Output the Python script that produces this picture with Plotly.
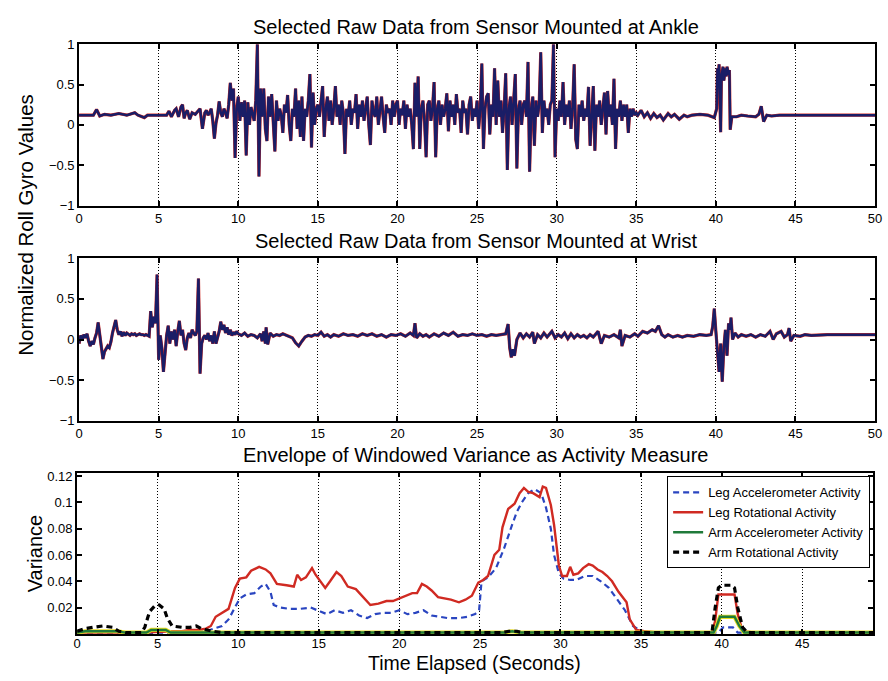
import numpy as np
import plotly.graph_objects as go

# ---------------- data ----------------
# Ankle roll gyro (normalized) — sparse start
ankle_pre_t = [0, 0.9, 1.1, 1.3, 1.6, 2.0, 2.5, 3.0, 3.5, 3.7, 4.1, 4.3, 5.0, 5.5, 5.65,
               5.8, 6.0, 6.1, 6.25, 6.4, 6.5, 6.6, 6.7, 6.8, 6.95, 7.1, 7.3, 7.5, 7.6, 7.75, 7.9]
ankle_pre_v = [0.12, 0.12, 0.19, 0.11, 0.13, 0.12, 0.14, 0.12, 0.15, 0.12, 0.09, 0.12, 0.12, 0.12, 0.17,
               0.1, 0.18, 0.2, 0.1, 0.22, 0.25, 0.08, 0.15, 0.18, 0.07, 0.15, 0.13, 0.18, 0.2, -0.05, 0.15]
# Ankle busy section, sampled every 0.1 s from 8.0 s to 35.0 s
ankle_busy_start = 8.0
ankle_busy_v = [
    0.18, 0.12, 0.15, 0.2, 0.05, -0.17, 0.02, 0.12, 0.29, 0.15,
    0.1, 0.2, 0.15, 0.08, 0.25, 0.52, 0.3, 0.45, -0.41, 0.2,
    0.35, 0.05, 0.28, 0.1, 0.3, -0.38, 0.28, 0.0, 0.22, 0.15,
    0.05, 0.3, 1.0, -0.64, 0.45, 0.1, 0.45, -0.05, -0.2, 0.35,
    0.1, 0.38, 0.0, -0.33, 0.3, 0.05, 0.2, 0.12, -0.1, 0.25,
    0.15, 0.37, 0.0, -0.2, 0.2, 0.1, 0.45, -0.05, 0.3, -0.15,
    0.35, -0.2, 0.2, 0.1, 0.3, 0.63, -0.28, 0.4, 0.0, 0.2,
    0.25, 0.1, 0.3, 0.48, -0.15, 0.2, 0.35, 0.05, 0.3, 0.0,
    0.2, 0.48, 0.1, 0.25, 0.0, 0.3, 0.15, -0.36, 0.2, 0.1,
    0.3, 0.0, 0.2, 0.15, 0.38, -0.05, 0.25, 0.1, 0.3, 0.05,
    0.2, 0.35, 0.0, -0.25, 0.3, 0.15, 0.1, 0.35, 0.0, 0.2,
    0.35, 0.1, -0.1, 0.25, 0.15, 0.2, 0.0, 0.3, 0.1, 0.25,
    0.3, 0.0, 0.2, 0.12, 0.3, -0.05, 0.25, 0.1, 0.2, 0.0,
    -0.3, 0.52, 0.1, 0.6, -0.3, 0.2, 0.3, 0.05, -0.4, 0.25,
    0.3, 0.05, 0.2, 0.53, -0.4, 0.2, 0.3, 0.0, 0.25, 0.1,
    0.2, 0.39, -0.08, 0.3, 0.1, 0.25, 0.0, 0.38, 0.15, 0.2,
    -0.1, 0.3, 0.15, 0.2, -0.12, 0.25, 0.35, 0.05, 0.2, 0.1,
    0.3, -0.05, 0.2, 0.76, -0.3, 0.2, 0.35, 0.39, -0.12, 0.25,
    0.1, 0.7, 0.0, 0.55, 0.1, 0.3, -0.1, 0.2, 0.64, -0.56,
    0.2, 0.35, 0.0, 0.3, 0.63, -0.54, 0.2, 0.3, 0.0, 0.25,
    0.3, 0.1, 0.78, -0.58, 0.2, 0.35, -0.26, 0.3, 0.1, 0.25,
    0.9, -0.1, 0.3, 0.1, 0.2, 0.0, 0.25, 0.3, 1.0, -0.4,
    0.2, 0.05, 0.3, 0.1, 0.53, 0.0, 0.25, 0.1, 0.3, -0.05,
    0.2, 0.75, -0.18, -0.3, 0.25, 0.1, 0.3, 0.05, 0.2, 0.1,
    0.47, -0.26, 0.2, 0.48, -0.32, 0.25, 0.1, 0.3, 0.0, 0.2,
    0.4, -0.12, 0.42, 0.1, 0.25, 0.0, 0.57, -0.3, 0.2, 0.1,
    0.3, 0.05, 0.25, 0.1, 0.25, -0.1, 0.2, 0.1, 0.2, 0.12,
    0.15,
]
ankle_post_t = [35.1, 35.3, 35.5, 35.7, 35.9, 36.1, 36.3, 36.5, 36.7, 37.0,
                37.2, 37.4, 37.7, 38.0, 38.2, 38.5, 39.0, 39.5, 39.9, 40.05,
                40.1, 40.15, 40.2, 40.3, 40.35, 40.45, 40.5, 40.6, 40.65, 40.7,
                40.8, 40.85, 40.9, 41.0, 41.3, 41.6, 42.0, 42.5, 42.7, 42.85,
                43.0, 43.2, 43.5, 44.0, 45.0, 50.0]
ankle_post_v = [0.12, 0.18, 0.1, 0.15, 0.08, 0.14, 0.09, 0.12, 0.06, 0.14,
                0.1, 0.13, 0.07, 0.12, 0.1, 0.12, 0.13, 0.12, 0.09, 0.2,
                0.7, 0.55, 0.75, -0.09, 0.6, 0.72, 0.55, 0.7, 0.6, 0.72,
                0.62, 0.68, -0.06, 0.1, 0.1, 0.12, 0.11, 0.1, 0.13, 0.23,
                0.04, 0.12, 0.11, 0.12, 0.12, 0.12]

# Wrist roll gyro — sampled every 0.1 s from 0 to 10 s, then keypoints
wrist_head_v = [
    -0.05, 0.05, 0.0, 0.06, 0.02, 0.07, -0.02, -0.08, -0.02, -0.06,
    0.02, 0.08, 0.21, 0.05, -0.05, -0.24, -0.15, -0.12, -0.08, -0.1,
    -0.03, 0.08, 0.18, 0.24, 0.12, 0.06, 0.1, 0.04, 0.09, 0.05,
    0.08, 0.06, 0.05, 0.07, 0.06, 0.07, 0.05, 0.06, 0.07, 0.06,
    0.06, 0.05, 0.06, 0.05, 0.04, 0.35, 0.15, 0.28, 0.2, 0.8,
    -0.25, 0.05, -0.1, -0.4, -0.15, 0.05, 0.17, -0.05, 0.1, 0.0,
    0.12, -0.08, 0.1, 0.23, 0.05, 0.12, -0.05, -0.13, 0.02, 0.08,
    0.02, 0.12, 0.08, 0.05, 0.1, 0.75, -0.42, -0.05, 0.02, 0.05,
    0.0, 0.08, -0.02, 0.05, -0.05, 0.1, -0.05, 0.02, 0.1, 0.22,
    0.12, 0.18, 0.08, 0.15, 0.06, 0.12, 0.05, 0.09, 0.06, 0.1,
    0.07,
]
wrist_tail_t = [
    10.2, 10.4, 10.6, 10.8, 11.0, 11.2, 11.4, 11.5, 11.6, 11.7,
    11.75, 11.85, 12.0, 12.2, 12.4, 12.6, 12.8, 13.0, 13.2, 13.4,
    13.6, 13.8, 14.0, 14.2, 14.4, 14.6, 14.8, 15.0, 15.2, 15.4,
    15.6, 15.8, 16.0, 16.3, 16.6, 16.9, 17.2, 17.5, 17.8, 18.1,
    18.4, 18.7, 19.0, 19.3, 19.6, 19.9, 20.2, 20.5, 20.8, 21.0,
    21.1, 21.2, 21.4, 21.6, 21.8, 22.0, 22.3, 22.6, 22.9, 23.2,
    23.5, 23.8, 24.1, 24.4, 24.7, 25.0, 25.3, 25.6, 25.9, 26.2,
    26.5, 26.8, 26.95, 27.05, 27.15, 27.25, 27.35, 27.5, 27.7, 27.9,
    28.1, 28.3, 28.5, 28.6, 28.8, 29.0, 29.2, 29.4, 29.7, 29.9,
    30.1, 30.3, 30.5, 30.7, 30.9, 31.1, 31.3, 31.5, 31.7, 31.9,
    32.1, 32.3, 32.6, 32.8, 33.0, 33.3, 33.6, 33.9, 34.0, 34.1,
    34.3, 34.6, 34.9, 35.1, 35.4, 35.7, 36.0, 36.2, 36.4, 36.6,
    36.8, 37.0, 37.3, 37.6, 37.9, 38.2, 38.6, 39.0, 39.4, 39.7,
    39.8, 39.9, 40.0, 40.05, 40.15, 40.2, 40.3, 40.4, 40.5, 40.6,
    40.7, 40.8, 40.9, 40.95, 41.05, 41.2, 41.4, 41.6, 41.9, 42.2,
    42.5, 42.8, 43.1, 43.4, 43.6, 43.8, 44.1, 44.3, 44.5, 44.6,
    44.7, 44.9, 45.3, 45.6, 46.0, 47.0, 48.0, 50.0,
]
wrist_tail_v = [
    0.05, 0.08, 0.04, 0.06, 0.05, 0.02, 0.07, -0.02, 0.1, -0.05,
    0.15, -0.06, 0.08, 0.04, 0.06, 0.05, 0.07, 0.05, 0.04, 0.02,
    -0.04, -0.08, -0.02, 0.03, 0.05, 0.04, 0.06, 0.05, 0.09, 0.04,
    0.06, 0.03, 0.06, 0.04, 0.07, 0.05, 0.06, 0.04, 0.07, 0.05,
    0.07, 0.04, 0.06, 0.03, 0.06, 0.05, 0.07, 0.04, 0.08, 0.05,
    0.2, 0.02, 0.07, 0.04, 0.06, 0.03, 0.07, 0.04, 0.08, 0.05,
    0.09, 0.04, 0.06, 0.05, 0.07, 0.05, 0.06, 0.04, 0.06, 0.05,
    0.06, 0.07, 0.19, -0.1, -0.22, -0.12, -0.2, 0.0, 0.08, 0.02,
    0.07, 0.03, 0.09, -0.05, 0.06, 0.02, 0.08, 0.03, 0.1, 0.02,
    0.06, 0.03, 0.08, 0.01, 0.07, 0.02, 0.06, 0.03, 0.05, 0.02,
    0.06, 0.03, 0.1, -0.05, 0.05, 0.03, 0.06, 0.02, 0.12, -0.08,
    0.05, 0.03, 0.07, 0.04, 0.1, 0.08, 0.12, 0.1, 0.17, 0.06,
    0.03, 0.06, 0.03, 0.05, 0.03, 0.05, 0.04, 0.06, 0.05, 0.06,
    0.16, 0.38, 0.1, -0.05, -0.25, -0.4, -0.05, -0.52, -0.1, 0.12,
    -0.2, 0.2, 0.12, 0.27, 0.0, 0.08, 0.03, 0.06, 0.04, 0.06,
    0.03, 0.06, 0.04, 0.1, 0.0, 0.07, 0.1, 0.03, 0.06, 0.14,
    -0.02, 0.05, 0.04, 0.06, 0.05, 0.06, 0.06, 0.06,
]

# Windowed variance envelopes
leg_rot_t = [0, 2, 4, 6, 6.5, 7, 7.5, 8.0, 8.3, 8.6, 9.0, 9.4, 9.8, 10.1, 10.5, 10.8, 11.3, 11.7,
             12.0, 12.2, 12.4, 13.0, 13.45, 13.66, 13.9, 14.2, 14.58, 14.8, 15.1, 15.4, 15.7, 16.1,
             16.4, 16.8, 17.3, 17.8, 18.2, 18.7, 19.2, 19.6, 20.0, 20.4, 20.8, 21.1, 21.4, 21.7,
             22.0, 22.4, 22.8, 23.2, 23.7, 24.1, 24.5, 24.9, 25.2, 25.5, 25.9, 26.2, 26.4, 26.75,
             27.15, 27.46, 27.73, 28.0, 28.3, 28.7, 28.9, 29.1, 29.4, 29.6, 29.9, 30.1, 30.4, 30.6,
             30.8, 31.1, 31.4, 31.75, 32.0, 32.3, 32.6, 32.9, 33.2, 33.6, 34.1, 34.3, 34.7, 35.2,
             36, 39.4, 39.6, 39.8, 40.8, 41.0, 41.3, 42, 49.4]
leg_rot_v = [0.001, 0.001, 0.001, 0.002, 0.002, 0.003, 0.003, 0.004, 0.006, 0.013, 0.016, 0.019,
             0.035, 0.042, 0.043, 0.048, 0.051, 0.049, 0.046, 0.042, 0.038, 0.037, 0.036, 0.045,
             0.041, 0.043, 0.050, 0.045, 0.040, 0.035, 0.040, 0.047, 0.044, 0.036, 0.034, 0.027,
             0.022, 0.023, 0.025, 0.025, 0.027, 0.029, 0.031, 0.031, 0.038, 0.036, 0.033, 0.028,
             0.027, 0.026, 0.024, 0.026, 0.029, 0.039, 0.041, 0.044, 0.060, 0.064, 0.081, 0.095,
             0.099, 0.107, 0.111, 0.108, 0.107, 0.104, 0.112, 0.111, 0.098, 0.083, 0.052, 0.044,
             0.044, 0.051, 0.045, 0.046, 0.050, 0.053, 0.052, 0.049, 0.047, 0.044, 0.040, 0.032,
             0.024, 0.011, 0.003, 0.002, 0.001, 0.001, 0.010, 0.030, 0.030, 0.015, 0.002, 0.001,
             0.001]
leg_acc_t = [0, 4, 7, 8.0, 8.5, 9.0, 9.4, 9.8, 10.1, 10.5, 11.0, 11.4, 11.7, 12.0, 12.2,
             12.6, 13.2, 13.8, 14.5, 15.1, 15.5, 16.0, 16.5, 17.0, 17.5, 18.0, 18.5, 19.0, 19.5,
             20.0, 20.5, 21.0, 21.5, 22.0, 22.45, 23.0, 23.7, 24.2, 24.7, 24.95, 25.1, 25.5, 26.0,
             26.5, 27.0, 27.3, 27.6, 28.0, 28.4, 28.8, 29.1, 29.4, 29.6, 29.9, 30.2, 30.6, 31.0,
             31.5, 32.0, 32.5, 33.0, 33.5, 34.0, 34.5, 35.0, 36.0, 39.8, 40.1, 40.7, 41.0, 49.4]
leg_acc_v = [0.0005, 0.0005, 0.001, 0.002, 0.004, 0.006, 0.011, 0.02, 0.027, 0.03, 0.031, 0.036,
             0.038, 0.032, 0.022, 0.020, 0.019, 0.019, 0.020, 0.017, 0.015, 0.018, 0.016, 0.018,
             0.014, 0.012, 0.015, 0.016, 0.016, 0.018, 0.015, 0.016, 0.018, 0.014, 0.013, 0.012,
             0.012, 0.013, 0.015, 0.018, 0.040, 0.043, 0.050, 0.065, 0.083, 0.093, 0.100, 0.107,
             0.110, 0.107, 0.096, 0.080, 0.060, 0.046, 0.042, 0.041, 0.041, 0.044, 0.044, 0.040,
             0.035, 0.026, 0.018, 0.006, 0.002, 0.001, 0.001, 0.005, 0.005, 0.001, 0.0005]
arm_acc_t = [0, 0.5, 1.5, 2.5, 3.0, 4.3, 4.6, 5.0, 5.5, 5.8, 6.5, 26.5, 27.0, 27.5, 39.5,
             39.7, 39.9, 40.8, 41.1, 41.4, 49.4]
arm_acc_v = [0.001, 0.002, 0.002, 0.002, 0.001, 0.001, 0.003, 0.003, 0.003, 0.001, 0.001, 0.001,
             0.002, 0.001, 0.001, 0.006, 0.013, 0.013, 0.006, 0.001, 0.001]
arm_rot_t = [0, 0.5, 1.0, 1.6, 2.2, 2.6, 3.0, 4.0, 4.2, 4.5, 4.8, 5.1, 5.4, 5.6, 5.9, 6.5, 7.0,
             7.4, 7.7, 8.0, 8.4, 9.0, 26.4, 26.8, 27.3, 27.6, 39.4, 39.6, 39.8, 40.0, 40.6, 40.8,
             41.0, 41.3, 41.6, 49.4]
arm_rot_v = [0.002, 0.004, 0.005, 0.006, 0.005, 0.002, 0.001, 0.001, 0.005, 0.017, 0.021, 0.022,
             0.019, 0.012, 0.006, 0.005, 0.005, 0.006, 0.004, 0.003, 0.002, 0.001, 0.001, 0.002,
             0.002, 0.001, 0.001, 0.02, 0.035, 0.037, 0.037, 0.035, 0.02, 0.005, 0.001, 0.001]

raw_xticks = [0, 5, 10, 15, 20, 25, 30, 35, 40, 45, 50]
var_xticks = [0, 5, 10, 15, 20, 25, 30, 35, 40, 45]
raw_yticks = [-1, -0.5, 0, 0.5, 1]
var_yticks = [0.02, 0.04, 0.06, 0.08, 0.1, 0.12]

# ---------------- assemble series ----------------
busy_t = list(np.round(ankle_busy_start + 0.1 * np.arange(len(ankle_busy_v)), 2))
ankle_t = ankle_pre_t + busy_t + ankle_post_t
ankle_v = ankle_pre_v + ankle_busy_v + ankle_post_v
wrist_t = list(np.round(0.1 * np.arange(len(wrist_head_v)), 2)) + wrist_tail_t
wrist_v = wrist_head_v + wrist_tail_v

FONT = "Liberation Sans, Arial, Helvetica, sans-serif"
W, H = 888, 681

fig = go.Figure()

RED = "#d02a22"
NAVY = "#1a1d66"

for (t, v, ax) in [(ankle_t, ankle_v, ""), (wrist_t, wrist_v, "2")]:
    fig.add_trace(go.Scatter(x=t, y=v, mode="lines", line=dict(color=RED, width=3.2),
                             xaxis="x" + ax, yaxis="y" + ax, showlegend=False, hoverinfo="skip"))
    fig.add_trace(go.Scatter(x=t, y=v, mode="lines", line=dict(color=NAVY, width=2.5),
                             xaxis="x" + ax, yaxis="y" + ax, showlegend=False))

fig.add_trace(go.Scatter(x=leg_acc_t, y=leg_acc_v, mode="lines", name="Leg Accelerometer Activity",
                         line=dict(color="#2a45c0", width=2.2, dash="6px,4px"), xaxis="x3", yaxis="y3"))
fig.add_trace(go.Scatter(x=leg_rot_t, y=leg_rot_v, mode="lines", name="Leg Rotational Activity",
                         line=dict(color=RED, width=2.4), xaxis="x3", yaxis="y3"))
fig.add_trace(go.Scatter(x=arm_acc_t, y=arm_acc_v, mode="lines", showlegend=False, hoverinfo="skip",
                         line=dict(color="#e8dc20", width=4.2), xaxis="x3", yaxis="y3"))
fig.add_trace(go.Scatter(x=arm_acc_t, y=arm_acc_v, mode="lines", name="Arm Accelerometer Activity",
                         line=dict(color="#1f7a3a", width=2.4), xaxis="x3", yaxis="y3"))
fig.add_trace(go.Scatter(x=arm_rot_t, y=arm_rot_v, mode="lines", name="Arm Rotational Activity",
                         line=dict(color="black", width=3.2, dash="6px,4px"), xaxis="x3", yaxis="y3"))


def xdom(l, r):
    return [l / W, r / W]


def ydom(top, bottom):
    return [(H - bottom) / H, (H - top) / H]


axis_common = dict(showline=True, linecolor="black", linewidth=1.8, mirror="ticks",
                   ticks="inside", ticklen=5, tickwidth=1.5, tickcolor="black",
                   zeroline=False, ticklabeloverflow="allow",
                   tickfont=dict(family=FONT, size=13, color="black"))
xgrid = dict(showgrid=True, gridcolor="black", griddash="1px,2px", gridwidth=1)

fig.update_layout(
    width=W, height=H, margin=dict(l=0, r=0, t=0, b=0),
    paper_bgcolor="white", plot_bgcolor="white",
    font=dict(family=FONT, color="black"),
    xaxis=dict(domain=xdom(76, 882), range=[0, 50], tickvals=raw_xticks, anchor="y", **axis_common, **xgrid),
    yaxis=dict(domain=ydom(38, 203), range=[-1, 1], tickvals=raw_yticks, anchor="x", showgrid=False, **axis_common),
    xaxis2=dict(domain=xdom(76, 882), range=[0, 50], tickvals=raw_xticks, anchor="y2", **axis_common, **xgrid),
    yaxis2=dict(domain=ydom(257, 423), range=[-1, 1], tickvals=raw_yticks, anchor="x2", showgrid=False, **axis_common),
    xaxis3=dict(domain=xdom(74, 880), range=[0, 49.4], tickvals=var_xticks, anchor="y3",
                ticklabelstandoff=-3, **axis_common, **xgrid),
    yaxis3=dict(domain=ydom(476, 641), range=[0, 0.1227], tickvals=var_yticks, anchor="x3", showgrid=False, **axis_common),
    legend=dict(x=877 / W, xanchor="right", y=(H - 480) / H, yanchor="top",
                bgcolor="white", bordercolor="black", borderwidth=1,
                font=dict(family=FONT, size=13, color="black"), tracegroupgap=0, itemwidth=30),
    showlegend=True,
)

ann = [
    dict(text="Selected Raw Data from Sensor Mounted at Ankle", x=478, y=20, size=20, angle=0),
    dict(text="Selected Raw Data from Sensor Mounted at Wrist", x=478, y=239, size=20, angle=0),
    dict(text="Envelope of Windowed Variance as Activity Measure", x=477, y=458, size=20, angle=0),
    dict(text="Time Elapsed (Seconds)", x=476, y=671, size=19.5, angle=0),
    dict(text="Normalized Roll Gyro Values", x=21, y=223, size=20.5, angle=-90),
    dict(text="Variance", x=31, y=559, size=20, angle=-90),
]
for a in ann:
    fig.add_annotation(text=a["text"], x=a["x"] / W, y=(H - a["y"]) / H, xref="paper", yref="paper",
                       xanchor="center", yanchor="middle", showarrow=False, textangle=a["angle"],
                       font=dict(family=FONT, size=a["size"], color="black"))

fig.write_html("out.html")
